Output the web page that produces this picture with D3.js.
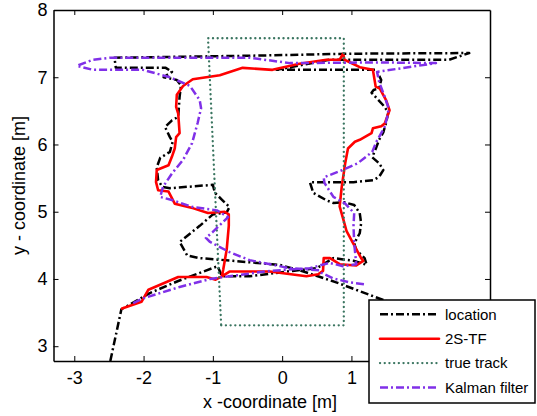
<!DOCTYPE html>
<html>
<head>
<meta charset="utf-8">
<script src="https://cdn.jsdelivr.net/npm/d3@7"></script>
<style>
  body { margin: 0; background: #fff; }
  svg { display: block; font-family: "Liberation Sans", Arial, sans-serif; }
</style>
</head>
<body>
<svg id="chart"></svg>
<script>
// SET DATA
const xTicks = [-3, -2, -1, 0, 1];
const yTicks = [3, 4, 5, 6, 7, 8];
const seriesNames = ["location", "2S-TF", "true track", "Kalman filter"];

const locationPts = [[-2.48,2.78],[-2.32,3.55],[-2.01,3.73],[-1.91,3.79],[-1.50,3.97],[-0.93,4.19],[-0.87,4.04],[-0.47,4.04],
  [0.15,4.12],[0.50,4.16],[0.74,4.31],[1.03,4.27],[1.22,4.21],[1.19,4.31],[1.07,4.43],[1.04,4.53],[1.12,4.68],[1.14,4.83],
  [1.12,4.98],[1.04,5.10],[0.90,5.14],[0.74,5.13],[0.64,5.17],[0.45,5.28],[0.40,5.44],[1.03,5.44],[1.32,5.47],[1.40,5.52],
  [1.46,5.62],[1.40,5.72],[1.30,5.81],[1.36,5.96],[1.40,6.07],[1.46,6.18],[1.50,6.32],[1.53,6.47],[1.48,6.56],[1.39,6.66],
  [1.29,6.77],[1.32,6.81],[1.40,6.84],[1.43,6.96],[1.36,7.11],[0.68,7.11],[-0.08,7.11],[0.68,7.26],[2.41,7.26],[2.70,7.36],
  [0.97,7.35],[-0.47,7.32],[-2.42,7.29],[-2.40,7.14],[-1.68,7.14],[-1.59,7.08],[-1.71,7.00],[-1.52,6.96],[-1.46,6.88],
  [-1.48,6.71],[-1.50,6.41],[-1.59,6.36],[-1.69,6.26],[-1.62,6.11],[-1.58,6.04],[-1.62,5.89],[-1.76,5.80],[-1.81,5.66],
  [-1.79,5.47],[-1.73,5.37],[-1.62,5.35],[-1.00,5.40],[-0.97,5.28],[-0.86,5.17],[-0.76,5.07],[-0.80,4.99],[-1.00,4.96],
  [-1.19,4.79],[-1.48,4.55],[-1.37,4.35],[-1.19,4.31],[-0.71,4.27],[-0.04,4.21],[0.25,4.13],[0.78,3.95],[1.40,3.71],[1.62,3.63]];

const tfPts = [[-2.31,3.56],[-2.03,3.66],[-1.93,3.84],[-1.50,4.03],[-1.09,4.03],[-0.96,3.99],[-0.87,4.04],[-0.76,4.11],
  [-0.18,4.11],[0.35,4.04],[0.52,4.07],[0.59,4.12],[0.60,4.31],[0.69,4.31],[0.83,4.22],[1.07,4.20],[1.17,4.27],[1.14,4.31],
  [0.93,4.71],[0.89,4.86],[0.83,5.08],[0.86,5.37],[0.91,5.72],[0.95,5.94],[1.05,6.04],[1.12,6.07],[1.29,6.17],[1.31,6.24],
  [1.43,6.27],[1.48,6.31],[1.55,6.51],[1.50,6.66],[1.41,6.83],[1.35,6.86],[1.31,7.11],[1.12,7.15],[0.90,7.26],[0.88,7.35],
  [0.83,7.26],[0.64,7.26],[0.25,7.20],[-0.14,7.11],[-0.57,7.14],[-0.90,7.03],[-1.29,6.97],[-1.43,6.87],[-1.52,6.74],
  [-1.53,6.56],[-1.50,6.46],[-1.48,6.17],[-1.53,6.11],[-1.55,5.94],[-1.59,5.82],[-1.64,5.69],[-1.81,5.62],[-1.82,5.44],
  [-1.79,5.32],[-1.64,5.30],[-1.55,5.12],[-1.28,5.05],[-1.07,4.98],[-0.83,5.00],[-0.77,4.96],[-0.77,4.79],[-0.80,4.44],
  [-0.85,4.14],[-0.87,4.04]];

const truePts = [[-0.88,3.31],[0.89,3.31],[0.89,7.58],[-1.07,7.58],[-0.88,3.31]];

const kalmanPts = [[-2.15,3.64],[-2.01,3.71],[-1.48,3.88],[-1.04,4.00],[-0.76,4.04],[-0.18,4.12],[0.40,4.16],[0.61,4.22],
  [0.68,4.24],[0.88,4.19],[1.07,4.22],[1.04,4.53],[1.03,4.79],[1.04,4.98],[0.90,5.13],[0.74,5.22],[0.61,5.43],[0.60,5.51],
  [0.87,5.62],[1.09,5.72],[1.30,5.89],[1.36,6.04],[1.43,6.17],[1.48,6.26],[1.53,6.47],[1.53,6.56],[1.48,6.71],[1.40,6.93],
  [1.37,7.08],[2.22,7.21],[1.40,7.22],[0.11,7.21],[-0.47,7.29],[-2.48,7.29],[-2.73,7.26],[-2.96,7.17],[-2.73,7.11],
  [-2.01,7.11],[-1.62,7.00],[-1.33,6.87],[-1.19,6.66],[-1.17,6.54],[-1.22,6.32],[-1.30,6.02],[-1.43,5.77],[-1.59,5.57],
  [-1.72,5.37],[-1.76,5.22],[-1.58,5.17],[-1.29,5.07],[-0.94,5.02],[-0.78,4.92],[-1.00,4.70],[-1.10,4.61],[-1.04,4.55],
  [-0.76,4.40],[-0.47,4.28],[0.11,4.16],[0.54,4.13],[0.57,4.09],[0.73,4.01],[0.97,3.95],[1.19,3.92]];

// SET VARIABLES
const _width = 537, _height = 416;
const _plot = {left: 53.5, right: 490, top: 10, bottom: 361};
const _font = '"Liberation Sans", Arial, sans-serif';
const _styles = [
  {color: "#000000", width: 2.5, dash: "8,3,2,3", cap: "butt"},
  {color: "#ff0000", width: 2.6, dash: null, cap: "round"},
  {color: "#3a7560", width: 2.3, dash: "0.1,4.6", cap: "round"},
  {color: "#8030e8", width: 2.5, dash: "8,3,2,3", cap: "butt"}
];
const allSeries = [locationPts, tfPts, truePts, kalmanPts];

const x = d3.scaleLinear().domain([-3.3, 3.0]).range([_plot.left, _plot.right]);
const y = d3.scaleLinear().domain([2.78, 8]).range([_plot.bottom, _plot.top]);

const svg = d3.select("#chart")
              .attr("width", _width)
              .attr("height", _height);

svg.append("rect")
      .attr("width", _width)
      .attr("height", _height)
      .attr("fill", "#fff");

// LINES
const line = d3.line().x(d => x(d[0])).y(d => y(d[1]));

allSeries.forEach((pts, i) => {
  svg.append("path")
        .datum(pts)
        .attr("d", line)
        .attr("fill", "none")
        .attr("stroke", _styles[i].color)
        .attr("stroke-width", _styles[i].width)
        .attr("stroke-dasharray", _styles[i].dash)
        .attr("stroke-linecap", _styles[i].cap)
        .attr("stroke-linejoin", "round");
});

// AXES
function styleAxis(g) {
  g.attr("font-family", _font).attr("font-size", 18);
  g.selectAll("path.domain").attr("stroke", "#000").attr("stroke-width", 1.5);
  g.selectAll(".tick line").attr("stroke", "#000").attr("stroke-width", 1);
  g.selectAll(".tick text").attr("fill", "#000");
}

svg.append("g")
      .attr("transform", `translate(0, ${_plot.bottom})`)
      .call(d3.axisBottom(x).tickValues(xTicks).tickSize(-5).tickSizeOuter(0).tickPadding(10).tickFormat(d => String(d)))
      .call(styleAxis);
svg.append("g")
      .attr("transform", `translate(0, ${_plot.top})`)
      .call(d3.axisTop(x).tickValues(xTicks).tickSize(-5).tickSizeOuter(0).tickFormat(""))
      .call(styleAxis);
svg.append("g")
      .attr("transform", `translate(${_plot.left}, 0)`)
      .call(d3.axisLeft(y).tickValues(yTicks).tickSize(-5).tickSizeOuter(0).tickPadding(6).tickFormat(d => String(d)))
      .call(styleAxis);
svg.append("g")
      .attr("transform", `translate(${_plot.right}, 0)`)
      .call(d3.axisRight(y).tickValues(yTicks).tickSize(-5).tickSizeOuter(0).tickFormat(""))
      .call(styleAxis);

// AXIS LABELS
svg.append("text")
      .attr("x", 270)
      .attr("y", 408)
      .attr("text-anchor", "middle")
      .attr("font-size", 18)
      .text("x -coordinate [m]");
svg.append("text")
      .attr("transform", `translate(25, ${(_plot.top + _plot.bottom) / 2}) rotate(-90)`)
      .attr("text-anchor", "middle")
      .attr("font-size", 18)
      .text("y - coordinate [m]");

// LEGEND
const legend = svg.append("g").attr("transform", "translate(369, 300)");
legend.append("rect")
        .attr("width", 166)
        .attr("height", 103)
        .attr("fill", "#fff")
        .attr("stroke", "#000")
        .attr("stroke-width", 1.5);
const rows = legend.selectAll("g.row")
                    .data(seriesNames)
                    .enter()
                  .append("g")
                    .attr("transform", (d, i) => `translate(0, ${14.3 + i * 24.4})`);
rows.append("line")
      .attr("x1", 11)
      .attr("x2", 70)
      .attr("stroke", (d, i) => _styles[i].color)
      .attr("stroke-width", (d, i) => _styles[i].width)
      .attr("stroke-dasharray", (d, i) => _styles[i].dash)
      .attr("stroke-linecap", (d, i) => _styles[i].cap);
rows.append("text")
      .attr("x", 76)
      .attr("dy", "0.35em")
      .attr("font-size", 15)
      .text(d => d);
</script>
</body>
</html>
